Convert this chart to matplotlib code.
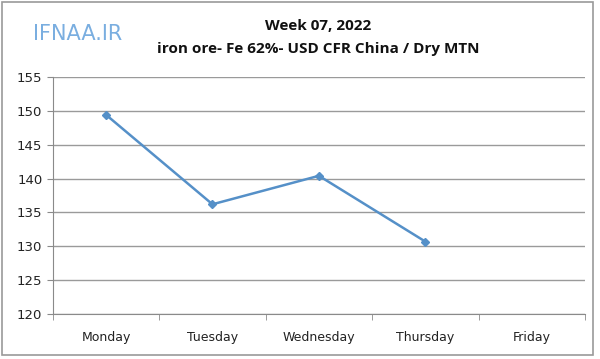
import matplotlib
matplotlib.use("Agg")
import matplotlib.pyplot as plt
from matplotlib.patches import Rectangle

days = ["Monday", "Tuesday", "Wednesday", "Thursday", "Friday"]
prices = [149.4, 136.2, 140.4, 130.7]
yticks = [120, 125, 130, 135, 140, 145, 150, 155]

fig = plt.figure(figsize=(6.0, 3.59), dpi=100)
fig.patch.set_facecolor("white")
fig.add_artist(Rectangle((0.004, 0.012), 0.985, 0.982, transform=fig.transFigure,
                         fill=False, edgecolor="#9a9a9a", linewidth=1.2))

ax = fig.add_axes([0.088, 0.125, 0.887, 0.661])
x = list(range(len(prices)))
ax.plot(x, prices, color="#5590c8", linewidth=1.8, marker="D", markersize=4)
ax.set_xlim(-0.5, len(days) - 0.5)
ax.set_ylim(120, 155)
ax.set_yticks(yticks)
ax.set_yticklabels([str(v) for v in yticks], fontsize=9.5, color="#222222")
ax.set_xticks(range(len(days)))
ax.set_xticklabels(days, fontsize=9, color="#222222")
ax.tick_params(axis="x", length=0, pad=12)
ax.set_xticks([i + 0.5 for i in range(-1, len(days))], minor=True)
ax.tick_params(axis="x", which="minor", length=4, color="#8a8a8a", direction="out")
ax.tick_params(axis="y", length=4, color="#8a8a8a", direction="out")
ax.grid(axis="y", color="#9a9a9a", linewidth=1)
ax.set_axisbelow(True)
for s in ["top", "right"]:
    ax.spines[s].set_visible(False)
ax.spines["left"].set_color("#8a8a8a")
ax.spines["bottom"].set_color("#8a8a8a")

fig.text(0.53, 0.928, "Week 07, 2022", ha="center", va="center", fontsize=11,
         fontweight="bold", family="Open Sans", color="#111111")
fig.text(0.53, 0.864, "iron ore- Fe 62%- USD CFR China / Dry MTN", ha="center",
         va="center", fontsize=11, fontweight="bold", family="Open Sans", color="#111111")
fig.text(0.13, 0.905, "IFNAA.IR", ha="center", va="center", fontsize=15,
         family="DejaVu Sans", color="#7aaee0")

fig.savefig("out.png", dpi=100)
